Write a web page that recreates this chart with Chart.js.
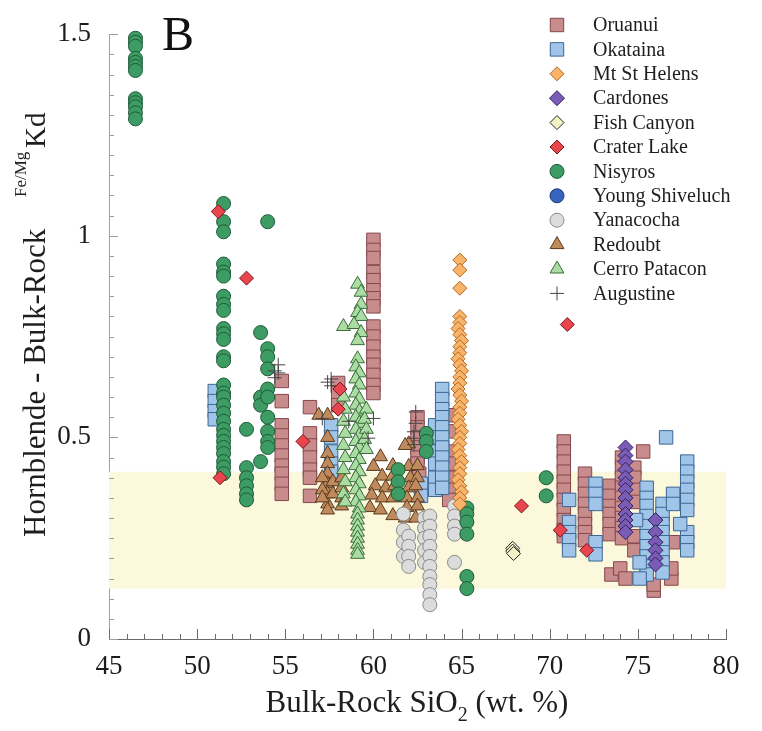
<!DOCTYPE html>
<html>
<head>
  <title>Hornblende - Bulk-Rock Fe/Mg Kd</title>
  <script src="https://cdn.jsdelivr.net/npm/chart.js"></script>
  <style>
    body { margin: 0; background: #fff; }
    #wrap { width: 762px; height: 731px; position: relative; }
  </style>
</head>
<body>
<div id="wrap"><canvas id="kdChart"></canvas></div>

<script>
  // SiO2 (wt. %) vs hornblende/bulk-rock Fe-Mg Kd, one [x, y] list per locality
  const oruanui = [
    [54.8,0.64],[54.8,0.59],[54.8,0.53],[54.8,0.505],[54.8,0.48],[54.8,0.455],[54.8,0.43],[54.8,0.41],[54.8,0.385],[54.8,0.36],
    [56.4,0.575],[56.4,0.51],[56.4,0.48],[56.4,0.45],[56.4,0.42],[56.4,0.40],[56.4,0.355],
    [58.0,0.635],[58.0,0.61],[58.0,0.58],
    [60.0,0.99],[60.0,0.965],[60.0,0.945],[60.0,0.91],[60.0,0.89],[60.0,0.865],[60.0,0.845],[60.0,0.825],
    [60.0,0.775],[60.0,0.75],[60.0,0.725],[60.0,0.70],[60.0,0.68],[60.0,0.655],[60.0,0.63],[60.0,0.61],
    [62.5,0.55],[62.5,0.525],[62.5,0.50],[62.5,0.475],[62.5,0.45],[62.5,0.435],[62.6,0.41],
    [64.3,0.555],[64.3,0.515],[64.3,0.465],[64.3,0.435],[64.3,0.40],[64.3,0.37],[64.3,0.345],
    [70.8,0.49],[70.8,0.465],[70.8,0.44],[70.8,0.415],[70.8,0.39],[70.8,0.37],[70.8,0.345],[70.8,0.32],[70.8,0.295],[70.8,0.27],[70.8,0.255],
    [72.0,0.41],[72.0,0.385],[72.0,0.36],[72.0,0.335],[72.0,0.31],[72.0,0.285],[72.0,0.265],[72.0,0.245],
    [73.4,0.38],[73.4,0.355],[73.4,0.33],[73.4,0.31],[73.4,0.285],[73.4,0.26],
    [74.1,0.45],[74.1,0.425],[74.1,0.40],[74.1,0.375],[74.1,0.35],[74.1,0.325],[74.1,0.30],[74.1,0.275],[74.1,0.25],
    [74.8,0.425],[74.8,0.40],[74.8,0.37],[74.8,0.34],[74.8,0.255],[74.8,0.22],
    [75.3,0.465],
    [73.5,0.16],[74.0,0.175],[74.3,0.15],[75.9,0.12],[75.9,0.135],[75.8,0.19],[76.9,0.15],[76.9,0.175],[77.0,0.24]
  ];
  const okataina = [
    [51.0,0.615],[51.0,0.59],[51.0,0.565],[51.0,0.545],
    [57.6,0.53],[57.6,0.50],[57.6,0.465],[57.6,0.435],[57.6,0.415],
    [63.5,0.53],[63.5,0.50],[63.5,0.465],[63.5,0.435],[63.5,0.40],[63.5,0.37],
    [63.9,0.62],[63.9,0.595],[63.9,0.57],[63.9,0.55],[63.9,0.525],[63.9,0.50],[63.9,0.475],[63.9,0.45],[63.9,0.425],[63.9,0.40],[63.9,0.375],
    [62.7,0.385],[62.7,0.355],
    [71.1,0.345],[71.1,0.29],[71.1,0.265],[71.1,0.245],[71.1,0.22],
    [72.6,0.385],[72.6,0.36],[72.6,0.335],[72.6,0.24],[72.6,0.21],
    [75.5,0.375],[75.5,0.35],[75.5,0.33],[75.5,0.305],[75.5,0.28],[75.5,0.255],[75.5,0.23],[75.5,0.205],[75.5,0.18],[75.5,0.16],
    [76.4,0.335],[76.4,0.31],[76.4,0.285],[76.4,0.265],[76.4,0.24],[76.4,0.215],[76.4,0.19],[76.4,0.165],
    [76.6,0.50],
    [77.8,0.44],[77.8,0.415],[77.8,0.39],[77.8,0.37],[77.8,0.345],[77.8,0.32],[77.8,0.265],[77.8,0.24],[77.8,0.22],
    [77.0,0.36],[77.0,0.335],[75.1,0.19],[75.1,0.15],[74.9,0.295],[77.4,0.285]
  ];
  const mtStHelens = [
    [64.9,0.94],[64.9,0.915],[64.9,0.87],[64.9,0.80],[64.9,0.785],[64.8,0.77],[64.9,0.755],[65.0,0.74],[64.9,0.725],
    [64.9,0.71],[64.8,0.695],[64.9,0.68],[65.0,0.665],[64.9,0.65],[64.9,0.635],[64.8,0.62],[64.9,0.605],[65.0,0.59],
    [64.9,0.575],[64.9,0.56],[64.8,0.545],[64.9,0.53],[65.0,0.515],[64.9,0.50],[64.9,0.485],[64.8,0.47],[64.9,0.455],
    [65.0,0.44],[64.9,0.425],[64.9,0.41],[64.8,0.395],[64.9,0.38],[65.0,0.365],[64.9,0.35],[64.9,0.335]
  ];
  const cardones = [
    [74.3,0.475],[74.3,0.455],[74.3,0.44],[74.3,0.42],[74.3,0.40],[74.3,0.385],[74.3,0.37],[74.3,0.35],[74.3,0.33],
    [74.3,0.31],[74.3,0.295],[74.3,0.28],[74.3,0.265],
    [76.0,0.295],[76.0,0.265],[76.0,0.24],[76.0,0.22],[76.0,0.20],[76.0,0.185]
  ];
  const fishCanyon = [[67.9,0.225],[67.9,0.218],[67.95,0.212]];
  const craterLake = [
    [51.2,1.06],[52.8,0.895],[51.3,0.40],[56.0,0.49],[58.1,0.62],[58.0,0.57],[68.4,0.33],[71.0,0.78],[70.6,0.27],[72.1,0.22]
  ];
  const nisyros = [
    [46.5,1.49],[46.5,1.48],[46.5,1.47],[46.5,1.44],[46.5,1.43],[46.5,1.42],[46.5,1.41],[46.5,1.34],[46.5,1.33],[46.5,1.32],[46.5,1.305],[46.5,1.29],
    [51.5,1.08],[51.5,1.035],[51.5,1.01],[51.5,0.93],[51.5,0.91],[51.5,0.90],[51.5,0.85],[51.5,0.83],[51.5,0.815],[51.5,0.77],
    [51.5,0.757],[51.5,0.743],[51.5,0.70],[51.5,0.69],[51.5,0.63],[51.5,0.61],[51.5,0.60],[51.5,0.58],[51.5,0.56],[51.5,0.54],
    [51.5,0.52],[51.5,0.505],[51.5,0.49],[51.5,0.475],[51.5,0.46],[51.5,0.44],[51.5,0.426],[51.5,0.41],
    [52.8,0.52],[52.8,0.425],[52.8,0.40],[52.8,0.38],[52.8,0.36],[52.8,0.345],
    [54.0,1.035],[53.6,0.76],[53.6,0.60],[53.6,0.58],[53.6,0.44],
    [54.0,0.72],[54.0,0.70],[54.0,0.67],[54.0,0.62],[54.0,0.60],[54.0,0.55],[54.0,0.515],[54.0,0.49],[54.0,0.475],
    [61.4,0.42],[61.4,0.39],[61.4,0.36],
    [63.0,0.51],[63.0,0.49],[63.0,0.465],
    [65.3,0.325],[65.3,0.31],[65.3,0.29],[65.3,0.26],[65.3,0.155],[65.3,0.125],
    [69.8,0.40],[69.8,0.355]
  ];
  const youngShiveluch = [];
  const yanacocha = [
    [61.7,0.31],[61.7,0.27],[61.7,0.24],[61.7,0.205],[62.0,0.255],[62.0,0.23],[62.0,0.205],[62.0,0.18],
    [62.9,0.30],[62.9,0.275],[62.9,0.25],[62.9,0.22],[62.9,0.19],
    [63.2,0.305],[63.2,0.28],[63.2,0.255],[63.2,0.23],[63.2,0.205],[63.2,0.18],[63.2,0.155],[63.2,0.135],[63.2,0.11],[63.2,0.085],
    [64.6,0.33],[64.6,0.305],[64.6,0.28],[64.6,0.26],[64.6,0.19]
  ];
  const redoubt = [
    [56.9,0.555],[57.4,0.555],[57.4,0.50],[57.4,0.46],[57.4,0.435],[57.4,0.41],[57.4,0.385],[57.4,0.36],[57.4,0.335],[57.4,0.32],
    [57.1,0.40],[57.1,0.37],[57.1,0.35],[57.7,0.39],[57.7,0.36],[58.2,0.40],[58.2,0.375],[58.2,0.35],[58.2,0.33],
    [62.0,0.484],[61.8,0.48],[60.4,0.452],[61.1,0.43],[62.0,0.428],[62.5,0.43],[60.0,0.428],
    [60.5,0.404],[61.1,0.404],[62.1,0.40],[62.5,0.40],
    [60.1,0.38],[60.7,0.375],[61.2,0.38],[62.0,0.375],[62.4,0.38],
    [59.9,0.357],[60.5,0.35],[61.1,0.35],[61.9,0.35],[62.5,0.35],
    [59.8,0.326],[60.4,0.32],[61.1,0.306],[61.9,0.326],[62.5,0.33],[61.8,0.30],[62.4,0.30]
  ];
  const cerroPatacon = [
    [59.1,0.88],[59.3,0.86],[59.3,0.83],[59.1,0.81],[59.3,0.80],[58.3,0.775],[58.9,0.78],[59.3,0.76],[59.1,0.74],
    [59.1,0.695],[59.0,0.675],[59.2,0.66],[59.0,0.645],[59.2,0.63],[59.0,0.61],[59.2,0.595],[59.0,0.58],[59.2,0.565],
    [59.0,0.55],[59.2,0.535],[59.0,0.52],[59.2,0.505],[59.0,0.49],[59.2,0.475],[59.0,0.46],[59.2,0.445],[59.0,0.43],
    [59.2,0.415],[59.0,0.40],[59.2,0.385],[59.0,0.37],[59.2,0.355],[59.0,0.34],[59.2,0.325],[59.1,0.31],[59.1,0.295],
    [59.1,0.28],[59.1,0.265],[59.1,0.25],[59.1,0.235],[59.1,0.22],[59.1,0.21],
    [58.3,0.60],[58.4,0.57],[58.3,0.54],[58.4,0.51],[58.3,0.48],[58.4,0.45],[58.3,0.42],[58.4,0.39],[58.3,0.36],[58.4,0.34],
    [59.6,0.57],[59.5,0.545],[59.6,0.52],[59.5,0.495],[59.6,0.47]
  ];
  const augustine = [
    [54.4,0.665],[54.4,0.648],[54.6,0.66],[54.6,0.68],[57.6,0.645],[57.6,0.628],[57.4,0.637],[57.1,0.547],
    [60.0,0.547],[59.7,0.498],[62.3,0.514],[62.3,0.498],[62.3,0.482],[62.4,0.563],[62.4,0.535],[58.6,0.54]
  ];

  // shaded Kd range
  const bandLow = 0.125;
  const bandHigh = 0.415;

  const xTicks = [45, 50, 55, 60, 65, 70, 75, 80];
  const yTicks = [0, 0.5, 1, 1.5];

  const SERIF = "'Liberation Serif', 'Times New Roman', serif";

  function series(label, data, style, radius, fill, line, order) {
    return {
      label: label,
      data: data.map(p => ({ x: p[0], y: p[1] })),
      pointStyle: style,
      pointRadius: radius,
      pointHoverRadius: radius,
      backgroundColor: fill,
      borderColor: line,
      borderWidth: 1,
      order: order,
      clip: false
    };
  }

  const datasets = [
    series('Oruanui', oruanui, 'rect', 9.5, '#c98c8c', '#84474d', 11),
    series('Okataina', okataina, 'rect', 9.5, '#a0c5e9', '#3b6794', 10),
    series('Mt St Helens', mtStHelens, 'rectRot', 7, '#f9b46a', '#b06a22', 4),
    series('Cardones', cardones, 'rectRot', 7.5, '#7a5bb5', '#33235f', 3),
    series('Fish Canyon', fishCanyon, 'rectRot', 7, '#f3f1c3', '#262626', 1),
    series('Crater Lake', craterLake, 'rectRot', 7, '#e9454e', '#7c161c', 0),
    series('Nisyros', nisyros, 'circle', 7, '#3c9c63', '#1e5a38', 5),
    series('Young Shiveluch', youngShiveluch, 'circle', 7, '#3563be', '#1c3575', 6),
    series('Yanacocha', yanacocha, 'circle', 7, '#dcdcdc', '#8a8a8a', 7),
    series('Redoubt', redoubt, 'triangle', 8, '#bf8b5d', '#5a391d', 9),
    series('Cerro Patacon', cerroPatacon, 'triangle', 8, '#abdca3', '#3a6d3a', 8),
    series('Augustine', augustine, 'cross', 7, '#444444', '#444444', 2)
  ];

  // band behind the points, plus inward tick marks on both axes
  const frame = {
    id: 'frame',
    beforeDatasetsDraw(chart) {
      const { ctx, chartArea: a, scales: { x, y } } = chart;
      const top = y.getPixelForValue(bandHigh);
      const bot = y.getPixelForValue(bandLow);
      ctx.save();
      ctx.fillStyle = '#fbf8dc';
      ctx.fillRect(a.left, top, a.right - a.left, bot - top);

      ctx.lineWidth = 1;
      ctx.strokeStyle = '#6b6b6b';
      ctx.beginPath();
      for (let v = 45; v <= 80; v++) {
        const px = Math.round(x.getPixelForValue(v)) + 0.5;
        const len = v % 5 === 0 ? 10 : 5;
        ctx.moveTo(px, a.bottom);
        ctx.lineTo(px, a.bottom - len);
      }
      ctx.stroke();

      ctx.strokeStyle = '#9a9db5';
      ctx.beginPath();
      for (let i = 0; i <= 30; i++) {
        const py = Math.round(y.getPixelForValue(i * 0.05)) + 0.5;
        const len = i % 10 === 0 ? 9 : 5;
        ctx.moveTo(a.left, py);
        ctx.lineTo(a.left + len, py);
      }
      ctx.stroke();
      ctx.restore();
    }
  };

  // legend in the upper right of the plot
  const legendBox = {
    id: 'legendBox',
    afterDatasetsDraw(chart) {
      const ctx = chart.ctx;
      chart.data.datasets.forEach((ds, i) => {
        const cy = 25 + i * 24.4;
        ctx.save();
        ctx.fillStyle = ds.backgroundColor;
        ctx.strokeStyle = ds.borderColor;
        ctx.lineWidth = 1;
        Chart.helpers.drawPoint(ctx, {
          pointStyle: ds.pointStyle,
          radius: ds.pointRadius,
          rotation: 0,
          borderWidth: 1
        }, 557, cy);
        ctx.fillStyle = '#1e1e1e';
        ctx.font = '20px ' + SERIF;
        ctx.textBaseline = 'middle';
        ctx.fillText(ds.label, 593, cy + 1);
        ctx.restore();
      });
    }
  };

  // axis titles with sub/superscripts and the panel letter
  const titles = {
    id: 'titles',
    afterDraw(chart) {
      const ctx = chart.ctx;
      ctx.save();
      ctx.fillStyle = '#1e1e1e';
      ctx.textBaseline = 'alphabetic';

      // x title
      const big = '31px ' + SERIF, small = '20px ' + SERIF;
      ctx.font = big;
      const p1 = 'Bulk-Rock SiO', p3 = ' (wt. %)';
      const w1 = ctx.measureText(p1).width, w3 = ctx.measureText(p3).width;
      ctx.font = small;
      const w2 = ctx.measureText('2').width;
      const sx = 417 - (w1 + w2 + w3) / 2;
      const base = 712;
      ctx.font = big;
      ctx.fillText(p1, sx, base);
      ctx.font = small;
      ctx.fillText('2', sx + w1, base + 9);
      ctx.font = big;
      ctx.fillText(p3, sx + w1 + w2, base);

      // y title, reading upwards
      ctx.translate(45, 537);
      ctx.rotate(-Math.PI / 2);
      ctx.font = '31px ' + SERIF;
      ctx.fillText('Hornblende - Bulk-Rock', 0, 0);
      ctx.font = '17px ' + SERIF;
      ctx.fillText('Fe/Mg', 340, -19);
      ctx.font = '29px ' + SERIF;
      ctx.fillText('Kd', 389, 0);
      ctx.restore();

      ctx.save();
      ctx.fillStyle = '#111';
      ctx.font = '48px ' + SERIF;
      ctx.fillText('B', 162, 50);
      ctx.restore();
    }
  };

  new Chart(document.getElementById('kdChart'), {
    type: 'scatter',
    data: { datasets: datasets },
    options: {
      responsive: true,
      maintainAspectRatio: false,
      animation: false,
      layout: { padding: { top: 22, right: 36, left: 0, bottom: 0 } },
      plugins: {
        legend: { display: false },
        tooltip: { enabled: false }
      },
      scales: {
        x: {
          type: 'linear',
          min: 45,
          max: 80,
          afterBuildTicks: s => { s.ticks = xTicks.map(v => ({ value: v })); },
          ticks: { font: { family: SERIF, size: 27 }, color: '#1c1c1c', padding: 12, maxRotation: 0 },
          grid: { display: false, drawTicks: false },
          border: { color: '#6b6b6b', width: 1 },
          afterFit: s => { s.height = 92; }
        },
        y: {
          type: 'linear',
          min: 0,
          max: 1.5,
          afterBuildTicks: s => { s.ticks = yTicks.map(v => ({ value: v })); },
          ticks: {
            font: { family: SERIF, size: 27 },
            color: '#1c1c1c',
            padding: 18,
            callback: v => String(v)
          },
          grid: { display: false, drawTicks: false },
          border: { color: '#9a9db5', width: 1 },
          afterFit: s => { s.width = 109; }
        }
      }
    },
    plugins: [frame, legendBox, titles]
  });
</script>
</body>
</html>
